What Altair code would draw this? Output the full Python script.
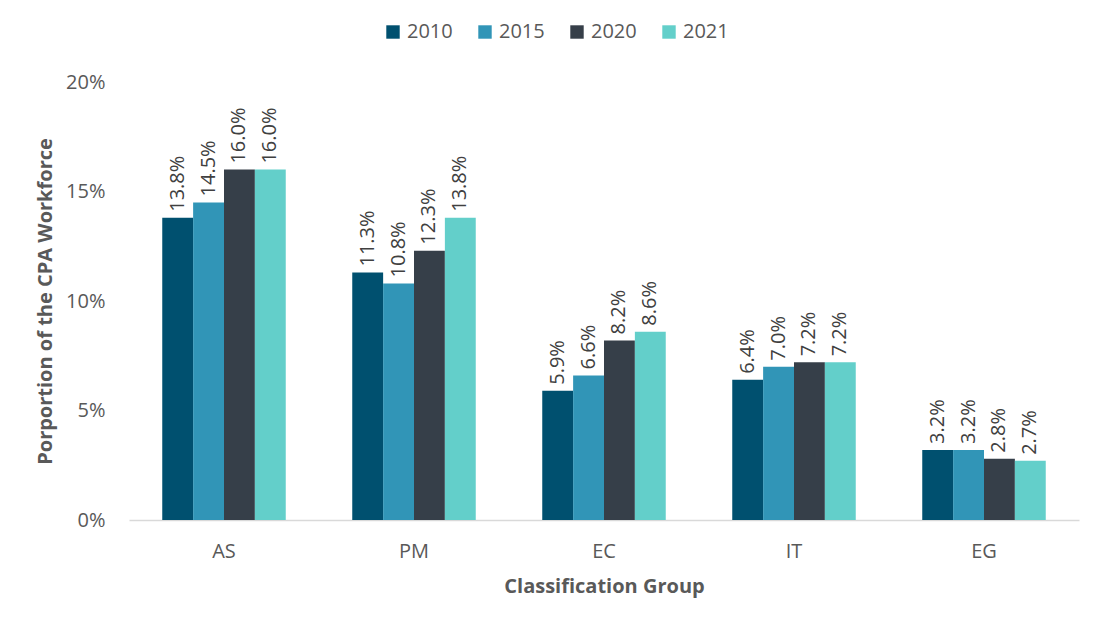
import altair as alt
import pandas as pd

groups = ["AS", "PM", "EC", "IT", "EG"]
years = ["2010", "2015", "2020", "2021"]
values = {
    "2010": [13.8, 11.3, 5.9, 6.4, 3.2],
    "2015": [14.5, 10.8, 6.6, 7.0, 3.2],
    "2020": [16.0, 12.3, 8.2, 7.2, 2.8],
    "2021": [16.0, 13.8, 8.6, 7.2, 2.7],
}
colors = ["#00506f", "#3195b7", "#363f49", "#63cfca"]

rows = []
for y in years:
    for g, v in zip(groups, values[y]):
        rows.append({"group": g, "year": y, "value": v / 100})
df = pd.DataFrame(rows)

FONT = "Open Sans"
GREY = "#595959"

base = alt.Chart(df).encode(
    x=alt.X("group:N", sort=groups,
            scale=alt.Scale(paddingInner=0.35, paddingOuter=0.175),
            axis=alt.Axis(title="Classification Group", labelAngle=0, ticks=False,
                          domainColor="#d9d9d9", domainWidth=1.5,
                          labelFontSize=20, labelColor=GREY, labelPadding=21,
                          titleFontSize=20, titleColor=GREY, titleFontWeight="bold",
                          titlePadding=15, labelFont=FONT, titleFont=FONT)),
    xOffset=alt.XOffset("year:N", sort=years),
    y=alt.Y("value:Q", scale=alt.Scale(domain=[0, 0.20]),
            axis=alt.Axis(title="Porportion of the CPA Workforce", format=".0%",
                          values=[0, 0.05, 0.10, 0.15, 0.20], grid=False,
                          domain=False, ticks=False, labelFontSize=20,
                          labelColor=GREY, labelPadding=24, titleFontSize=20,
                          titleColor=GREY, titleFontWeight="bold", titlePadding=10,
                          labelFont=FONT, titleFont=FONT)),
)

bars = base.mark_bar().encode(
    color=alt.Color("year:N", sort=years,
                    scale=alt.Scale(domain=years, range=colors),
                    legend=alt.Legend(title=None, orient="none", direction="horizontal",
                                      legendX=254, legendY=-60,
                                      symbolType="square", symbolSize=180,
                                      symbolStrokeWidth=0, symbolOffset=0,
                                      labelFontSize=20, labelColor=GREY,
                                      labelFont=FONT, columnPadding=22))
)

labels = base.mark_text(angle=270, align="left", baseline="middle", dx=6,
                        fontSize=20, color="#404040", font=FONT).encode(
    text=alt.Text("value:Q", format=".1%")
)

chart = alt.layer(bars, labels).properties(
    width=950, height=438,
    padding={"left": 27, "top": 14, "right": 5, "bottom": 5},
).configure_view(stroke=None).configure_axis(labelFont=FONT, titleFont=FONT)

chart.save("out.html", embed_options={"renderer": "svg", "actions": False})
